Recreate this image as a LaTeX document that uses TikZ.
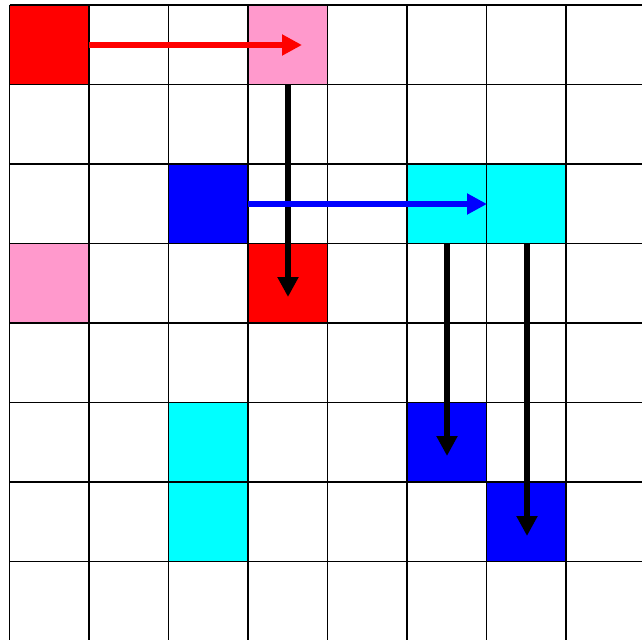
\documentclass[tikz,border=0pt]{standalone}
\usetikzlibrary{arrows.meta}
\definecolor{pinkc}{RGB}{255,153,204}
\definecolor{cyanc}{RGB}{0,255,255}
\definecolor{bluec}{RGB}{0,0,255}
\definecolor{redc}{RGB}{255,0,0}
\begin{document}
\begin{tikzpicture}[x=1pt,y=-1pt,
  gridline/.style={line width=1.6pt,black},
  mover/.style={line width=6pt,-{Triangle[length=20pt,width=20pt]}},
  cellfill/.style={fill=#1,draw=none}]
\useasboundingbox[fill=white] (0,0) rectangle (642,640);
\def\ox{9.5}\def\oy{5}\def\cs{79.5}
\newcommand{\cellat}[3]{\fill[#3] ({\ox+#1*\cs},{\oy+#2*\cs}) rectangle ++(\cs,\cs);}
\cellat{0}{0}{redc}
\cellat{3}{0}{pinkc}
\cellat{2}{2}{bluec}
\cellat{5}{2}{cyanc}
\cellat{6}{2}{cyanc}
\cellat{0}{3}{pinkc}
\cellat{3}{3}{redc}
\cellat{2}{5}{cyanc}
\cellat{2}{6}{cyanc}
\cellat{5}{5}{bluec}
\cellat{6}{6}{bluec}
\foreach \k in {0,...,7}{
  \draw[gridline] ({\ox+\k*\cs},\oy) -- ({\ox+\k*\cs},640);
  \draw[gridline] (\ox,{\oy+\k*\cs}) -- (642,{\oy+\k*\cs});
}
\coordinate (rs) at (89,45);
\coordinate (re) at (302,45);
\coordinate (k1s) at (288,85);
\coordinate (k1e) at (288,297);
\coordinate (bs) at (248,204);
\coordinate (be) at (487,204);
\coordinate (k2s) at (447,244);
\coordinate (k2e) at (447,456);
\coordinate (k3s) at (527,244);
\coordinate (k3e) at (527,536);
\draw[mover,redc] (rs) -- (re);
\draw[mover,black] (k1s) -- (k1e);
\draw[mover,bluec] (bs) -- (be);
\draw[mover,black] (k2s) -- (k2e);
\draw[mover,black] (k3s) -- (k3e);
\end{tikzpicture}
\end{document}
